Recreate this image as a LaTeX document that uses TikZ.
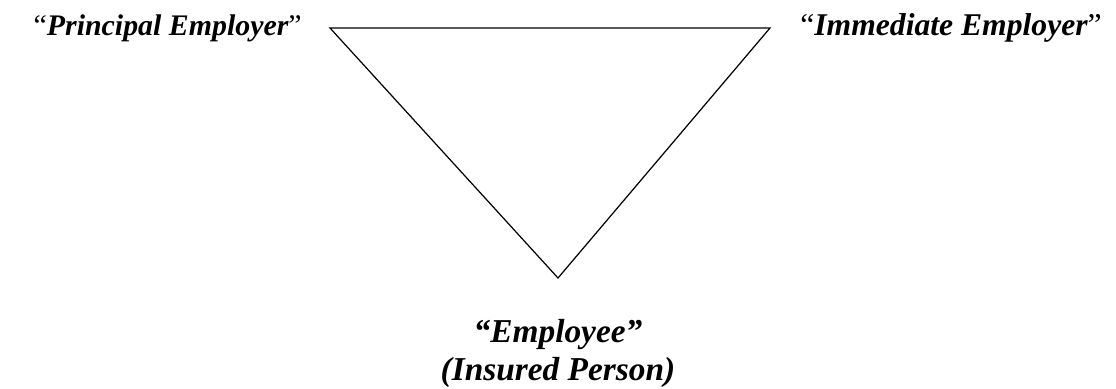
\documentclass[tikz,border=0pt]{standalone}
\usepackage{fontspec}
\setmainfont{Liberation Serif}
\usetikzlibrary{positioning}

\begin{document}
\begin{tikzpicture}[font=\bfseries\itshape,
  lbl/.style={inner sep=0pt,font=\fontsize{17}{20}\selectfont\bfseries\itshape}]
\useasboundingbox (0,0) rectangle (22.32,-7.76);
% the three parties
\coordinate (pe) at (6.6,-0.56);
\coordinate (ie) at (15.4,-0.56);
\coordinate (ee) at (11.16,-5.56);
\draw[line width=0.7pt] (pe) -- (ie) -- (ee) -- cycle;
\node[lbl,anchor=base east] (pel) at (6.04,-0.70) {{\normalfont “}Principal Employer{\normalfont ”}};
\node[lbl,anchor=base west,font=\fontsize{18}{20}\selectfont\bfseries\itshape]
  (iel) at (16.0,-0.70) {{\normalfont “}Immediate Employer{\normalfont ”}};
\node[inner sep=0pt,anchor=base,align=center,font=\fontsize{19}{21.5}\selectfont\bfseries\itshape]
  (eel) at (11.16,-7.60) {“Employee”\\(Insured Person)};
\end{tikzpicture}
\end{document}
